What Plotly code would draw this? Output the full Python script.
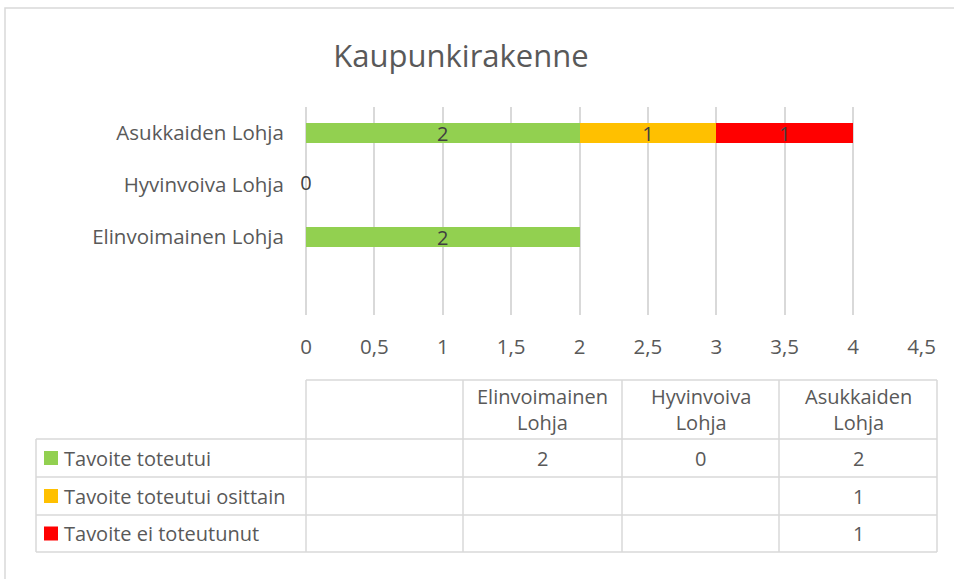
import plotly.graph_objects as go

# ---- data ----
title = "Kaupunkirakenne"
categories = [" ", "Elinvoimainen Lohja", "Hyvinvoiva Lohja", "Asukkaiden Lohja"]
series_names = ["Tavoite toteutui", "Tavoite toteutui osittain", "Tavoite ei toteutunut"]
toteutui = [None, 2, 0, 2]
osittain = [None, None, None, 1]
ei_toteutunut = [None, None, None, 1]
x_ticks = [0, 0.5, 1, 1.5, 2, 2.5, 3, 3.5, 4, 4.5]

series_values = [toteutui, osittain, ei_toteutunut]
colors = ["#92D050", "#FFC000", "#FF0000"]

W, H = 954, 579
TXT = "#595959"
GRID = "#d9d9d9"
FONT = "Open Sans"


def px(x):
    return x / W


def py(y):
    return 1 - y / H


fig = go.Figure()

for name, vals, col in zip(series_names, series_values, colors):
    fig.add_trace(go.Bar(
        name=name, y=categories, x=vals, orientation="h",
        marker=dict(color=col, line=dict(width=0)),
        width=0.385,
        text=[(str(v) if v else "") for v in vals],
        textposition="inside", insidetextanchor="middle", textangle=0,
        constraintext="none",
        insidetextfont=dict(family=FONT, size=20, color="#404040"),
        showlegend=False, hoverinfo="skip",
    ))

# zero-valued labels (shown at the axis origin)
zx, zy = [], []
for vals in series_values:
    for c, v in zip(categories, vals):
        if v == 0:
            zx.append(v)
            zy.append(c)
fig.add_trace(go.Scatter(
    x=zx, y=zy, mode="text", text=[str(v) for v in zx],
    textposition="middle center", cliponaxis=False,
    textfont=dict(family=FONT, size=20, color="#404040"),
    showlegend=False, hoverinfo="skip",
))

shapes = []
annotations = []

# outer frame
shapes.append(dict(type="rect", xref="paper", yref="paper",
                   x0=px(5), x1=px(W + 10), y0=py(8), y1=py(H + 10),
                   line=dict(color=GRID, width=1.5)))

# ---- data table ----
col_edges = [36, 306, 463, 622, 779, 937]
header_top, header_bot = 380, 439
row_edges = [439, 477, 515, 552]
tl = dict(color=GRID, width=1.5)

shapes.append(dict(type="line", xref="paper", yref="paper",
                   x0=px(col_edges[1]), x1=px(col_edges[-1]),
                   y0=py(header_top), y1=py(header_top), line=tl))
for ry in row_edges:
    shapes.append(dict(type="line", xref="paper", yref="paper",
                       x0=px(col_edges[0]), x1=px(col_edges[-1]),
                       y0=py(ry), y1=py(ry), line=tl))
shapes.append(dict(type="line", xref="paper", yref="paper",
                   x0=px(col_edges[0]), x1=px(col_edges[0]),
                   y0=py(row_edges[0]), y1=py(row_edges[-1]), line=tl))
for cx in col_edges[1:]:
    shapes.append(dict(type="line", xref="paper", yref="paper",
                       x0=px(cx), x1=px(cx),
                       y0=py(header_top), y1=py(row_edges[-1]), line=tl))

# header text
for i, cat in enumerate(categories):
    xc = (col_edges[i + 1] + col_edges[i + 2]) / 2
    annotations.append(dict(
        xref="paper", yref="paper", x=px(xc), y=py((header_top + header_bot) / 2),
        text=cat.strip().replace(" ", "<br>"), showarrow=False,
        xanchor="center", yanchor="middle",
        font=dict(family=FONT, size=20, color=TXT)))

# body rows
for r, (name, vals, col) in enumerate(zip(series_names, series_values, colors)):
    yc = (row_edges[r] + row_edges[r + 1]) / 2
    shapes.append(dict(type="rect", xref="paper", yref="paper",
                       x0=px(44), x1=px(58), y0=py(yc - 7), y1=py(yc + 7),
                       fillcolor=col, line=dict(width=0)))
    annotations.append(dict(
        xref="paper", yref="paper", x=px(62), y=py(yc), text=name,
        showarrow=False, xanchor="left", yanchor="middle",
        font=dict(family=FONT, size=20, color=TXT)))
    for i, v in enumerate(vals):
        if v is None:
            continue
        xc = (col_edges[i + 1] + col_edges[i + 2]) / 2
        annotations.append(dict(
            xref="paper", yref="paper", x=px(xc), y=py(yc), text=str(v),
            showarrow=False, xanchor="center", yanchor="middle",
            font=dict(family=FONT, size=20, color=TXT)))

fig.update_layout(
    width=W, height=H, autosize=False,
    margin=dict(l=0, r=0, t=0, b=0, pad=0, autoexpand=False),
    paper_bgcolor="white", plot_bgcolor="white",
    separators=", ",
    barmode="stack",
    font=dict(family=FONT, color=TXT),
    title=dict(text=title, x=px(461), y=py(56), xanchor="center", yanchor="middle",
               xref="paper", yref="paper",
               font=dict(family=FONT, size=31, color=TXT)),
    xaxis=dict(domain=[px(306), px(921.5)], range=[0, 4.5],
               tickmode="array", tickvals=x_ticks, automargin=False,
               showgrid=True, gridcolor=GRID, gridwidth=1.5,
               zeroline=True, zerolinecolor=GRID, zerolinewidth=1.5,
               showline=False, ticks="outside", ticklen=13,
               tickcolor="rgba(0,0,0,0)",
               tickfont=dict(family=FONT, size=20.5, color=TXT),
               fixedrange=True),
    yaxis=dict(domain=[py(315), py(107)], type="category",
               categoryorder="array", categoryarray=categories,
               range=[-0.5, 3.5], automargin=False,
               showgrid=False, zeroline=False, showline=False,
               ticks="outside", ticklen=17, tickcolor="rgba(0,0,0,0)",
               tickfont=dict(family=FONT, size=20.5, color=TXT),
               fixedrange=True),
    shapes=shapes,
    annotations=annotations,
)

fig.write_html(
    "out.html",
    config={"displayModeBar": False, "responsive": False},
    post_script="document.documentElement.style.margin='0';document.body.style.margin='0';document.body.style.overflow='hidden';",
)
